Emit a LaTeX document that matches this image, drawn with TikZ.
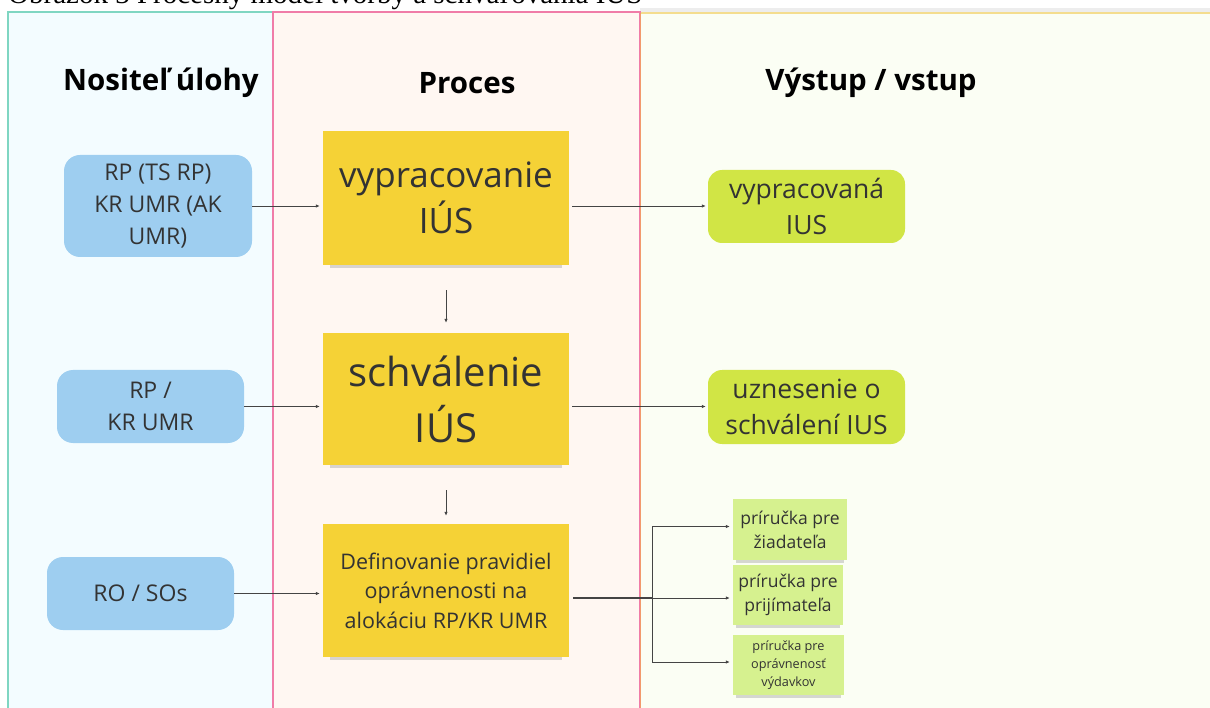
\documentclass[tikz,border=0pt]{standalone}
\usepackage{fontspec}
\setmainfont{Open Sans}
\newfontfamily\capfont{Liberation Serif}
\usetikzlibrary{arrows.meta,shadows}

\definecolor{txt}{HTML}{333333}
\definecolor{lineg}{HTML}{444444}
\definecolor{laneAfill}{HTML}{F3FCFF}
\definecolor{laneAline}{HTML}{7FD6C2}
\definecolor{laneBfill}{HTML}{FFF7F2}
\definecolor{laneBline}{HTML}{F07CA8}
\definecolor{laneCfill}{HTML}{FBFEF4}
\definecolor{laneCline}{HTML}{F4DD8E}
\definecolor{laneCleft}{HTML}{F29A6C}
\definecolor{bluebox}{HTML}{9ECEF0}
\definecolor{yellownote}{HTML}{F5D236}
\definecolor{greenbox}{HTML}{D1E545}
\definecolor{greennote}{HTML}{D6F18F}

\tikzset{
  lanehead/.style={font=\bfseries\fontsize{29.5}{34}\selectfont, text=black},
  actor/.style={fill=bluebox, rounded corners=16pt, align=center, text=txt,
    font=\fontsize{23}{32}\selectfont, inner sep=0pt},
  stepnote/.style={fill=yellownote, align=center, text=txt, inner sep=0pt,
    drop shadow={shadow xshift=0pt, shadow yshift=-7pt, opacity=0.3, shadow scale=0.94}},
  result/.style={fill=greenbox, rounded corners=14pt, align=center, text=txt,
    font=\fontsize{26.5}{36}\selectfont, inner sep=0pt},
  guide/.style={fill=greennote, align=center, text=txt, inner sep=0pt,
    drop shadow={shadow xshift=0pt, shadow yshift=-5pt, opacity=0.3, shadow scale=0.94}},
  flow/.style={draw=lineg, line width=0.8pt, -{Latex[length=4pt,width=3.5pt]}},
}

\begin{document}
\begin{tikzpicture}[x=1pt,y=-1pt]
  \useasboundingbox (0,0) rectangle (1210,708);
  \clip (0,0) rectangle (1210,708);

  % CAPTION (cut off at the top, as in the page it was taken from)
  \node[anchor=base west, inner sep=0pt, font=\capfont\fontsize{29}{32}\selectfont]
    (caption) at (8,4) {Obrázok 3 Procesný model tvorby a schvaľovania IÚS};

  % LANES
  \fill[black!7] (640,8) rectangle (1215,13);
  \draw[fill=laneCfill, draw=laneCline, line width=1.5pt] (640,13) rectangle (1220,720);
  \draw[fill=laneAfill, draw=laneAline, line width=1.2pt] (8,12) rectangle (273,720);
  \draw[fill=laneBfill, draw=laneBline, line width=1.2pt] (273,12) rectangle (640,720);
  \draw[laneCleft, line width=0.8pt] (640.8,13) -- (640.8,720);

  % HEADERS
  \node[lanehead] (h1) at (161,83) {Nositeľ úlohy};
  \node[lanehead] (h2) at (467,83) {Proces};
  \node[lanehead] (h3) at (871,83) {Výstup / vstup};

  % ACTORS
  \node[actor, minimum width=188pt, minimum height=102pt] (b1) at (158,206)
    {RP (TS RP)\\KR UMR (AK\\UMR)};
  \node[actor, minimum width=187pt, minimum height=73pt] (b2) at (150.5,406.5)
    {RP /\\KR UMR};
  \node[actor, minimum width=187pt, minimum height=73pt] (b3) at (140.5,593.5)
    {RO / SOs};

  % PROCESS STEPS
  \node[stepnote, minimum width=246pt, minimum height=134pt,
    font=\fontsize{35}{46}\selectfont] (p1) at (446,198) {vypracovanie\\IÚS};
  \node[stepnote, minimum width=246pt, minimum height=132pt,
    font=\fontsize{40}{56}\selectfont] (p2) at (446,399) {schválenie\\IÚS};
  \node[stepnote, minimum width=246pt, minimum height=133pt,
    font=\fontsize{21.5}{29.5}\selectfont] (p3) at (446,590.5)
    {Definovanie pravidiel\\oprávnenosti na\\alokáciu RP/KR UMR};

  % OUTPUTS
  \node[result, minimum width=197pt, minimum height=73pt] (o1) at (806.5,206.5)
    {vypracovaná\\IUS};
  \node[result, minimum width=197pt, minimum height=74pt] (o2) at (806.5,407)
    {uznesenie o\\schválení IUS};

  % HANDBOOKS
  \node[guide, minimum width=114pt, minimum height=61pt,
    font=\fontsize{17.5}{24}\selectfont] (s1) at (790,529.5) {príručka pre\\žiadateľa};
  \node[guide, minimum width=110pt, minimum height=60pt,
    font=\fontsize{17.5}{24}\selectfont] (s2) at (788,595) {príručka pre\\prijímateľa};
  \node[guide, minimum width=111pt, minimum height=60pt,
    font=\fontsize{12.7}{18}\selectfont] (s3) at (788.5,665)
    {príručka pre\\oprávnenosť\\výdavkov};

  % ARROWS
  \draw[flow, shorten >=3pt] (b1.east) -- (b1.east -| p1.west);
  \draw[flow, shorten <=3pt, shorten >=2pt] (p1.east |- b1.east) -- (p1.east |- b1.east -| o1.west);
  \draw[flow, shorten <=25pt, shorten >=10pt] (p1.south) -- (p2.north);
  \draw[flow, shorten >=3pt] (b2.east) -- (b2.east -| p2.west);
  \draw[flow, shorten <=3pt, shorten >=2pt] (p2.east |- b2.east) -- (p2.east |- b2.east -| o2.west);
  \draw[flow, shorten <=25pt, shorten >=8pt] (p2.south) -- (p3.north);
  \draw[flow, shorten >=3pt] (b3.east) -- (b3.east -| p3.west);

  % fork to the handbooks
  \coordinate (fork) at (652,598);
  \draw[lineg, line width=2.4pt, shorten <=4pt] (p3.east |- fork) -- (fork);
  \draw[flow, shorten >=3pt] (fork) |- ([yshift=3pt]s1.west);
  \draw[flow, shorten >=3pt] (fork) -- (fork -| s2.west);
  \draw[flow, shorten >=3pt] (fork) |- ([yshift=3pt]s3.west);
\end{tikzpicture}
\end{document}
